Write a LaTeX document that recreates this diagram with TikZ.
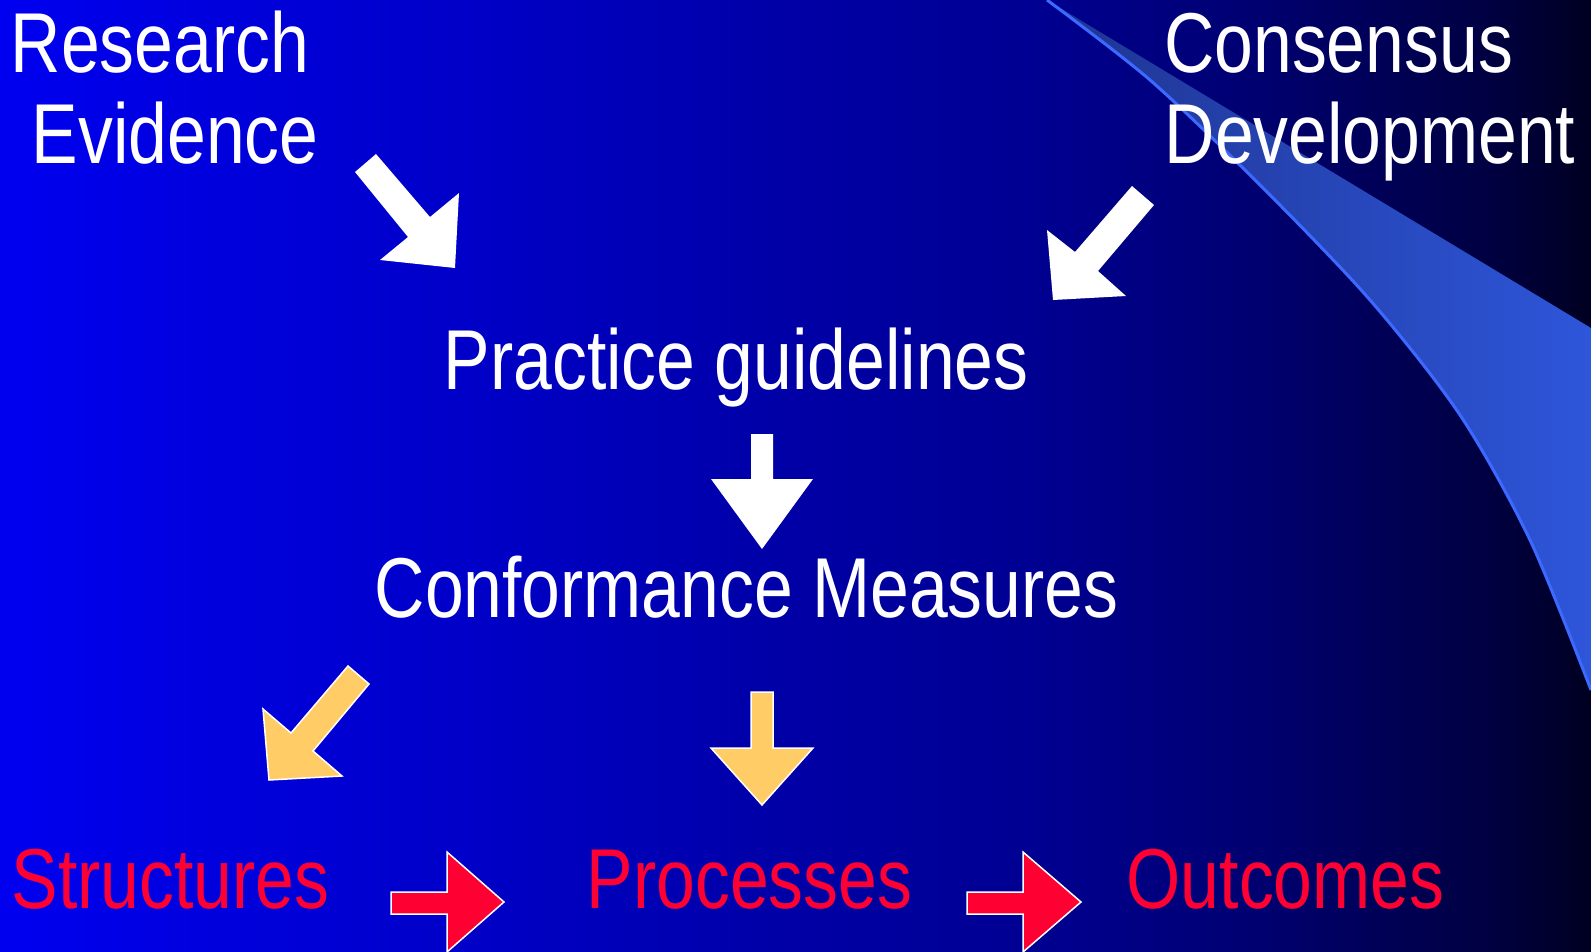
\documentclass[tikz,border=0pt]{standalone}
\usepackage{fontspec}
\setmainfont{Liberation Sans}[FakeStretch=0.82]

\definecolor{outred}{RGB}{255,0,51}
\definecolor{gold}{RGB}{255,204,102}
\definecolor{bandlo}{RGB}{30,52,145}
\definecolor{bandhi}{RGB}{46,86,218}
\definecolor{bandedge}{RGB}{60,105,255}

% blue to black, only 25bp..75bp is seen
\pgfdeclarehorizontalshading{slideback}{100bp}{rgb(0bp)=(0,0,0.94); rgb(25bp)=(0,0,0.94);
  rgb(40bp)=(0,0,0.78); rgb(49bp)=(0,0,0.66); rgb(57.5bp)=(0,0,0.57);
  rgb(64.5bp)=(0,0,0.44); rgb(72bp)=(0,0,0.25); rgb(75bp)=(0,0,0.13); rgb(100bp)=(0,0,0.13)}

\tikzset{
  txt/.style={anchor=base west,inner sep=0pt,text=white,font=\fontsize{85}{100}\selectfont},
  outtxt/.style={txt,text=outred},
  whitearrow/.style={fill=white},
  goldarrow/.style={fill=gold,draw=white,line width=1.5pt},
  redarrow/.style={fill=outred,draw=white,line width=1.5pt}
}

\begin{document}
\begin{tikzpicture}[x=1pt,y=-1pt]
    %BACKGROUND
    \useasboundingbox (0,0) rectangle (1591,951);
    \clip (0,0) rectangle (1591,951);
    \shade[shading=slideback] (0,0) rectangle (1591,951);
    \shade[left color=bandlo,right color=bandhi] (1047,0) -- (1591,328) -- (1591,690)
        -- plot[smooth] coordinates {(1591,690) (1530,540) (1460,415) (1370,300) (1260,185) (1150,80) (1047,0)} -- cycle;
    \draw[bandedge,line width=3pt] plot[smooth] coordinates {(1047,0) (1150,80) (1260,185) (1370,300) (1460,415) (1530,540) (1591,690)};

    %NODE
    \node[txt] (research) at (10.5,72) {Research};
    \node[txt] (evidence) at (31.5,163) {Evidence};
    \node[txt] (consensus) at (1164,72) {Consensus};
    \node[txt] (development) at (1164.5,163) {Development};
    \node[txt] (practice) at (443.5,389) {Practice guidelines};
    \node[txt] (conformance) at (374.5,617) {Conformance Measures};
    \node[outtxt] (structures) at (11.5,908) {Structures};
    \node[outtxt] (processes) at (586.5,908) {Processes};
    \node[outtxt] (outcomes) at (1126.5,908) {Outcomes};

    %ARROW
    \fill[whitearrow] (355,172) -- (376,154) -- (430,217) -- (459,193) -- (455,268) -- (380,260) -- (408,237) -- cycle;
    \fill[whitearrow] (1132,186) -- (1154,205) -- (1098,271) -- (1126,296) -- (1053,300) -- (1047,230) -- (1075,252) -- cycle;
    \fill[whitearrow] (751,434) -- (773,434) -- (773,479) -- (813,479) -- (762,549) -- (711,479) -- (751,479) -- cycle;
    \filldraw[goldarrow] (348,666) -- (369,684) -- (313,751) -- (342,776) -- (269,780) -- (263,709) -- (291,733) -- cycle;
    \filldraw[goldarrow] (751,692) -- (773,692) -- (773,748) -- (813,748) -- (762,805) -- (711,748) -- (751,748) -- cycle;
    \filldraw[redarrow] (391,892) -- (447,892) -- (447,852) -- (504,902) -- (447,952) -- (447,914) -- (391,914) -- cycle;
    \filldraw[redarrow] (967,892) -- (1023,892) -- (1023,852) -- (1081,902) -- (1023,952) -- (1023,914) -- (967,914) -- cycle;
\end{tikzpicture}
\end{document}
